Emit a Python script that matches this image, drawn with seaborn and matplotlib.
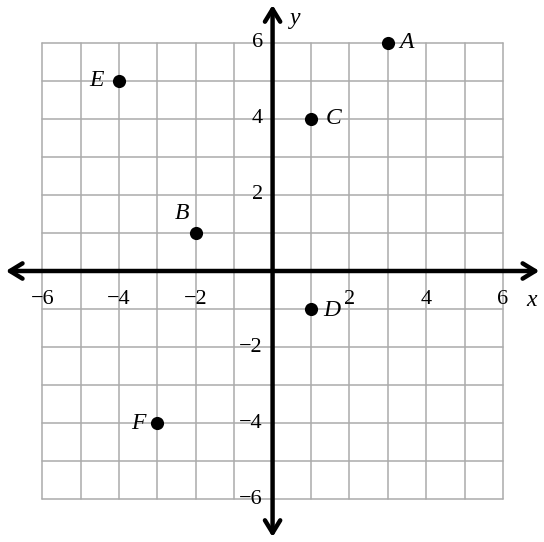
import matplotlib
matplotlib.use("Agg")
import matplotlib.pyplot as plt
import seaborn as sns
import pandas as pd
import numpy as np

# points on the coordinate plane
names = ["A", "B", "C", "D", "E", "F"]
xs = [3, -2, 1, 1, -4, -3]
ys = [6, 1, 4, -1, 5, -4]
tick_vals = [-6, -4, -2, 2, 4, 6]

df = pd.DataFrame({"name": names, "x": xs, "y": ys})

sns.set_style("white")
plt.rcParams["font.family"] = ["Liberation Serif", "DejaVu Serif"]
plt.rcParams["text.color"] = "black"

fig = plt.figure(figsize=(5.44, 5.42), dpi=100)
ax = fig.add_axes([0, 0, 1, 1])
ax.set_xlim(-7.1, 7.07)
ax.set_ylim(-7.13, 7.13)
ax.axis("off")

# grid
for v in range(-6, 7):
    ax.plot([v, v], [-6, 6], color="#ababab", lw=1.1, zorder=1)
    ax.plot([-6, 6], [v, v], color="#ababab", lw=1.1, zorder=1)

# axes with arrows
arrow = dict(arrowstyle="<->,head_length=0.9,head_width=0.55", lw=3.2, color="black",
             shrinkA=0, shrinkB=0)
ax.annotate("", xy=(-6.95, 0), xytext=(6.95, 0), arrowprops=arrow, zorder=3)
ax.annotate("", xy=(0, -7.0), xytext=(0, 7.0), arrowprops=arrow, zorder=3)

# tick labels
for t in tick_vals:
    lab = f"\u2212{-t}" if t < 0 else str(t)
    ax.text(t, -0.75, lab, ha="center", va="center", fontsize=16, zorder=4)
    ax.text(-0.25, t, lab, ha="right", va="center", fontsize=16, zorder=4)

ax.text(6.75, -0.78, "x", style="italic", fontsize=17, ha="center", va="center")
ax.text(0.6, 6.65, "y", style="italic", fontsize=17, ha="center", va="center")

sns.scatterplot(data=df, x="x", y="y", color="black", s=90, linewidth=0,
                ax=ax, zorder=5, legend=False)

offsets = {"A": (0.5, 0, "center"), "B": (-0.35, 0.52, "center"), "C": (0.6, 0, "center"),
           "D": (0.55, -0.05, "center"), "E": (-0.58, 0, "center"), "F": (-0.5, 0, "center")}
for n, x, y in zip(names, xs, ys):
    dx, dy, ha = offsets[n]
    ax.text(x + dx, y + dy, n, style="italic", fontsize=17, ha=ha, va="center", zorder=6)

fig.savefig("out.png", dpi=100)
